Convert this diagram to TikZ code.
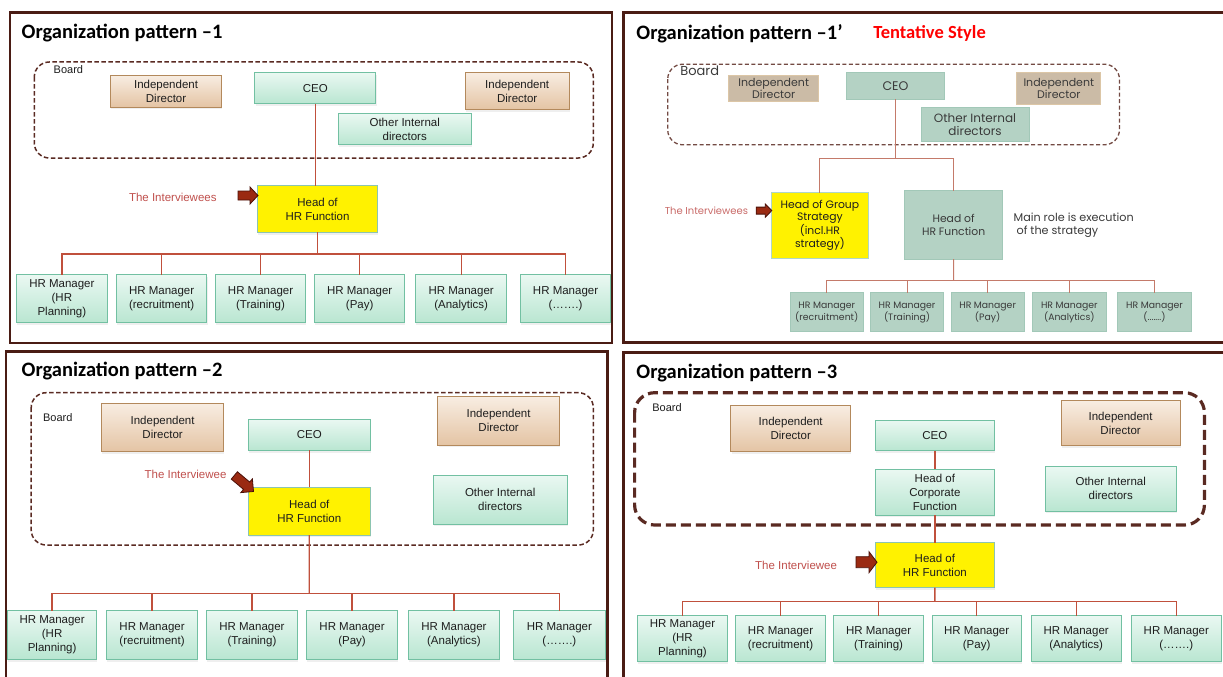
\documentclass[tikz,border=0pt]{standalone}
\usepackage{fontspec}
\usetikzlibrary{shadows}
\newfontfamily\boxf{Liberation Sans}
\newfontfamily\titlef{Carlito}
\newfontfamily\gothf{Poppins}
\definecolor{frameC}{HTML}{4A1C14}
\definecolor{boardC}{HTML}{5A2A22}
\definecolor{gT}{HTML}{EAF8F2}
\definecolor{gBot}{HTML}{B9E6D1}
\definecolor{gB}{HTML}{72C0A2}
\definecolor{tT}{HTML}{F8EDE2}
\definecolor{tBot}{HTML}{E4C4A4}
\definecolor{tB}{HTML}{B3895C}
\definecolor{yB}{HTML}{8CC4B0}
\definecolor{connC}{HTML}{C0503C}
\definecolor{conn2C}{HTML}{C47A6A}
\definecolor{intC}{HTML}{C0504D}
\definecolor{arrF}{HTML}{9A2A12}
\definecolor{arrD}{HTML}{4A1008}
\definecolor{pTan}{HTML}{CBBBA6}
\definecolor{pTanB}{HTML}{DCC6A6}
\definecolor{pTeal}{HTML}{B4D2C4}
\definecolor{pTealB}{HTML}{A2C8B8}
\definecolor{txtC}{HTML}{1E1E1E}
\definecolor{txt2C}{HTML}{3A3A3A}
\tikzset{
  frame/.style={draw=frameC, line width=2.5pt},
  board/.style={draw=boardC, line width=1.5pt, dash pattern=on 4.5pt off 2.5pt, rounded corners=15pt},
  boardthick/.style={draw=boardC, line width=3.2pt, dash pattern=on 10pt off 5pt, rounded corners=20pt},
  board2/.style={draw=boardC!85, line width=1.3pt, dash pattern=on 4pt off 2.5pt, rounded corners=15pt},
  basebox/.style={inner sep=0pt, outer sep=0pt, align=center, text=txtC,
    font=\boxf\fontsize{11.5}{14}\selectfont,
    drop shadow={shadow xshift=0.6pt, shadow yshift=-2.2pt, opacity=0.12}},
  gbox/.style={basebox, draw=gB, line width=1pt, top color=gT, bottom color=gBot},
  tbox/.style={basebox, draw=tB, line width=1pt, top color=tT, bottom color=tBot},
  ybox/.style={basebox, draw=yB, line width=1pt, fill=yellow},
  p2base/.style={inner sep=0pt, outer sep=0pt, align=center, text=txt2C},
  p2tan/.style={p2base, draw=pTanB, line width=1pt, fill=pTan, font=\gothf\fontsize{11}{12.5}\selectfont},
  p2teal/.style={p2base, draw=pTealB, line width=1pt, fill=pTeal, font=\gothf\fontsize{10.8}{12.5}\selectfont},
  p2mgr/.style={p2base, draw=pTealB, line width=1pt, fill=pTeal, font=\gothf\fontsize{9.3}{10.5}\selectfont},
  p2yel/.style={p2base, draw=yB!70, line width=1pt, fill=yellow, text=txtC, font=\gothf\fontsize{10.8}{12}\selectfont},
  conn/.style={draw=connC, line width=1.3pt},
  conn2/.style={draw=conn2C, line width=1pt},
  title/.style={anchor=west, inner sep=0pt, font=\titlef\bfseries\fontsize{20.5}{24}\selectfont, text=black},
  boardlbl/.style={anchor=west, inner sep=0pt, font=\boxf\fontsize{11}{13}\selectfont, text=txtC},
  intlbl/.style={anchor=west, inner sep=0pt, font=\boxf\fontsize{11.5}{13}\selectfont, text=intC},
  arrowsty/.style={fill=arrF, draw=arrD, line width=0.8pt, line join=miter}
}
% name, x1, y1, x2, y2, style, text
\newcommand\bx[7]{%
  \node[#6, minimum width={(#4)-(#2)}, minimum height={(#5)-(#3)}] (#1) at ({((#2)+(#4))/2},{((#3)+(#5))/2}) {#7};}
% tip x, tip y, angle, length, head length, half head, half shaft
\newcommand\barrow[7]{%
  \begin{scope}[shift={(#1,#2)}, rotate=#3]
    \draw[arrowsty] (0,0) -- (-#5,#6) -- (-#5,#7) -- (-#4,#7) -- (-#4,-#7) -- (-#5,-#7) -- (-#5,-#6) -- cycle;
  \end{scope}}
\begin{document}
\begin{tikzpicture}[x=1pt, y=-1pt]
\useasboundingbox (0,0) rectangle (1223,677);
\clip (0,0) rectangle (1223,677);
\fill[white] (0,0) rectangle (1223,677);

% ================= Panel 1 =================
\draw[frame] (10,12.5) rectangle (612,343);
\node[title] (t1) at (21.5,33.4) {Organization pattern –1};
\draw[board] (34.3,62) rectangle (593.3,158);
\node[boardlbl] (bl1) at (53.5,69.5) {Board};
\bx{id1a}{110.8}{75.2}{221.3}{107}{tbox}{Independent\\Director}
\bx{ceo1}{254.9}{72.5}{375.9}{103.6}{gbox}{CEO}
\bx{id1b}{465.3}{72.5}{569.1}{109.3}{tbox}{Independent\\Director}
\bx{oid1}{338.4}{113.7}{471.1}{144.8}{gbox}{Other Internal\\directors}
\bx{hr1}{257.2}{185.6}{377.8}{232.4}{ybox}{Head of\\HR Function}
\node[intlbl] (i1) at (128.8,197.3) {The Interviewees};
\barrow{258}{195.5}{0}{20}{8}{8.5}{4.5}
\draw[conn] (ceo1.south) -- (ceo1.south |- hr1.north);
\bx{m1a}{16.4}{274.8}{107.3}{322.6}{gbox}{HR Manager\\(HR\\Planning)}
\bx{m1b}{116.3}{274.8}{206.9}{322.6}{gbox}{HR Manager\\(recruitment)}
\bx{m1c}{215.5}{274.8}{305.6}{322.6}{gbox}{HR Manager\\(Training)}
\bx{m1d}{314.6}{274.8}{404.8}{322.6}{gbox}{HR Manager\\(Pay)}
\bx{m1e}{415.7}{274.8}{506.6}{322.6}{gbox}{HR Manager\\(Analytics)}
\bx{m1f}{520.3}{274.8}{610.8}{322.6}{gbox}{HR Manager\\(…….)}
\coordinate (bus1) at (317.5,254.1);
\draw[conn] (hr1.south) -- (bus1);
\draw[conn] (m1a.north) -- (m1a.north |- bus1) -- (m1f.north |- bus1) -- (m1f.north);
\foreach \m in {m1b,m1c,m1d,m1e} \draw[conn] (\m.north) -- (\m.north |- bus1);

% ================= Panel 2 =================
\draw[frame] (623.7,12.7) rectangle (1240,342.7);
\node[title] (t2) at (636.2,33.4) {Organization pattern –1’};
\node[title, text=red, font=\titlef\bfseries\fontsize{18.5}{22}\selectfont] (ts2) at (873.1,33) {Tentative Style};
\draw[board2] (667.7,64.2) rectangle (1119.4,144.8);
\node[anchor=west, inner sep=0pt, font=\gothf\fontsize{13}{15}\selectfont, text=txt2C] (bl2) at (680.2,71.2) {Board};
\bx{id2a}{728.9}{75.2}{818.5}{101.3}{p2tan}{Independent\\Director}
\bx{ceo2}{846.2}{72.9}{944.8}{99}{p2teal, font=\gothf\fontsize{12.5}{14}\selectfont}{CEO}
\bx{id2b}{1016.9}{72.9}{1100.7}{104.3}{p2tan}{Independent\\Director}
\bx{oid2}{921}{107.7}{1029}{141.1}{p2teal, font=\gothf\fontsize{12}{13.5}\selectfont}{Other Internal\\directors}
\bx{hgs2}{771}{192.9}{868.8}{258.4}{p2yel}{Head of Group\\Strategy\\(incl.HR\\strategy)}
\bx{hhr2}{904.3}{190.6}{1002.9}{259.1}{p2teal}{Head of\\HR Function}
\node[anchor=west, inner sep=0pt, align=left, font=\gothf\fontsize{11.2}{13.4}\selectfont, text=txt2C] (mr2) at (1013.4,225) {Main role is execution\\\hspace*{3pt}of the strategy};
\node[anchor=west, inner sep=0pt, font=\gothf\fontsize{10}{12}\selectfont, text=intC!85] (i2) at (664.6,211) {The Interviewees};
\barrow{771.8}{210.6}{0}{15.6}{6.5}{6.6}{3.5}
\coordinate (j2) at (895.5,158.8);
\draw[conn2] (ceo2.south) -- (j2);
\draw[conn2] (hgs2.north) -- (hgs2.north |- j2) -- (hhr2.north |- j2) -- (hhr2.north);
\bx{m2a}{790.1}{292.9}{863.4}{331.7}{p2mgr}{HR Manager\\(recruitment)}
\bx{m2b}{870.4}{292.9}{943.6}{331.7}{p2mgr}{HR Manager\\(Training)}
\bx{m2c}{951}{292.9}{1024.3}{331.7}{p2mgr}{HR Manager\\(Pay)}
\bx{m2d}{1032.5}{292.9}{1106.2}{331.7}{p2mgr}{HR Manager\\(Analytics)}
\bx{m2e}{1117.5}{292.9}{1191.5}{331.7}{p2mgr}{HR Manager\\(.......)}
\coordinate (bus2) at (953.6,280.2);
\draw[conn2] (hhr2.south) -- (bus2);
\draw[conn2] (m2a.north) -- (m2a.north |- bus2) -- (m2e.north |- bus2) -- (m2e.north);
\foreach \m in {m2b,m2c,m2d} \draw[conn2] (\m.north) -- (\m.north |- bus2);

% ================= Panel 3 =================
\draw[frame] (5.9,351.7) rectangle (607.5,700);
\node[title] (t3) at (21.5,370.7) {Organization pattern –2};
\draw[board] (31.2,392.7) rectangle (593.3,545);
\node[boardlbl] (bl3) at (42.9,417.7) {Board};
\bx{id3a}{101.5}{403.3}{223.7}{451.7}{tbox}{Independent\\Director}
\bx{ceo3}{248.2}{419}{370.4}{450.3}{gbox}{CEO}
\bx{id3b}{437.9}{396.7}{559.3}{445}{tbox}{Independent\\Director}
\bx{oid3}{433.3}{475}{567.1}{524}{gbox}{Other Internal\\directors}
\bx{hr3}{248.2}{487}{370.4}{535}{ybox}{Head of\\HR Function}
\node[intlbl] (i3) at (144.4,474.3) {The Interviewee};
\barrow{253.5}{491.5}{-40}{25}{9}{9}{4.8}
\draw[conn] (ceo3.south) -- (hr3.north);
\bx{m3a}{7.8}{610.7}{96.4}{659.3}{gbox}{HR Manager\\(HR\\Planning)}
\bx{m3b}{106.6}{610.7}{197.5}{659.3}{gbox}{HR Manager\\(recruitment)}
\bx{m3c}{206.1}{610.7}{297.8}{659.3}{gbox}{HR Manager\\(Training)}
\bx{m3d}{306.4}{610.7}{397.7}{659.3}{gbox}{HR Manager\\(Pay)}
\bx{m3e}{408.3}{610.7}{499.6}{659.3}{gbox}{HR Manager\\(Analytics)}
\bx{m3f}{513.7}{610.7}{605}{659.3}{gbox}{HR Manager\\(…….)}
\coordinate (bus3) at (309.3,593.3);
\draw[conn] (hr3.south) -- (bus3);
\draw[conn] (m3a.north) -- (m3a.north |- bus3) -- (m3f.north |- bus3) -- (m3f.north);
\foreach \m in {m3b,m3c,m3d,m3e} \draw[conn] (\m.north) -- (\m.north |- bus3);

% ================= Panel 4 =================
\draw[frame] (623.7,352.3) rectangle (1240,700);
\node[title] (t4) at (636.2,372.7) {Organization pattern –3};
\draw[boardthick] (634.6,392.7) rectangle (1204.4,525);
\node[boardlbl] (bl4) at (652.1,407.3) {Board};
\bx{id4a}{730.9}{405.7}{850.5}{451.7}{tbox}{Independent\\Director}
\bx{ceo4}{875}{420}{994.7}{450.7}{gbox}{CEO}
\bx{id4b}{1061}{400.7}{1180.2}{445.7}{tbox}{Independent\\Director}
\bx{hcf4}{875}{469}{994.7}{515}{gbox}{Head of\\Corporate\\Function}
\bx{oid4}{1045.4}{466.7}{1176}{511}{gbox}{Other Internal\\directors}
\bx{hr4}{875}{542.7}{994.7}{587.7}{ybox}{Head of\\HR Function}
\node[intlbl] (i4) at (755,565) {The Interviewee};
\barrow{877}{562.2}{0}{21}{8}{10.5}{5.5}
\draw[conn] (ceo4.south) -- (hcf4.north);
\draw[conn] (hcf4.south) -- (hr4.north);
\bx{m4a}{637.3}{615.7}{727.7}{661.7}{gbox}{HR Manager\\(HR\\Planning)}
\bx{m4b}{735.9}{615.7}{825.2}{661.7}{gbox}{HR Manager\\(recruitment)}
\bx{m4c}{833.4}{615.7}{923.8}{661.7}{gbox}{HR Manager\\(Training)}
\bx{m4d}{932}{615.7}{1021.2}{661.7}{gbox}{HR Manager\\(Pay)}
\bx{m4e}{1031.3}{615.7}{1121}{661.7}{gbox}{HR Manager\\(Analytics)}
\bx{m4f}{1131.5}{615.7}{1221.1}{661.7}{gbox}{HR Manager\\(…….)}
\coordinate (bus4) at (934.85,601.7);
\draw[conn] (hr4.south) -- (bus4);
\draw[conn] (m4a.north) -- (m4a.north |- bus4) -- (m4f.north |- bus4) -- (m4f.north);
\foreach \m in {m4b,m4c,m4d,m4e} \draw[conn] (\m.north) -- (\m.north |- bus4);
\end{tikzpicture}
\end{document}
